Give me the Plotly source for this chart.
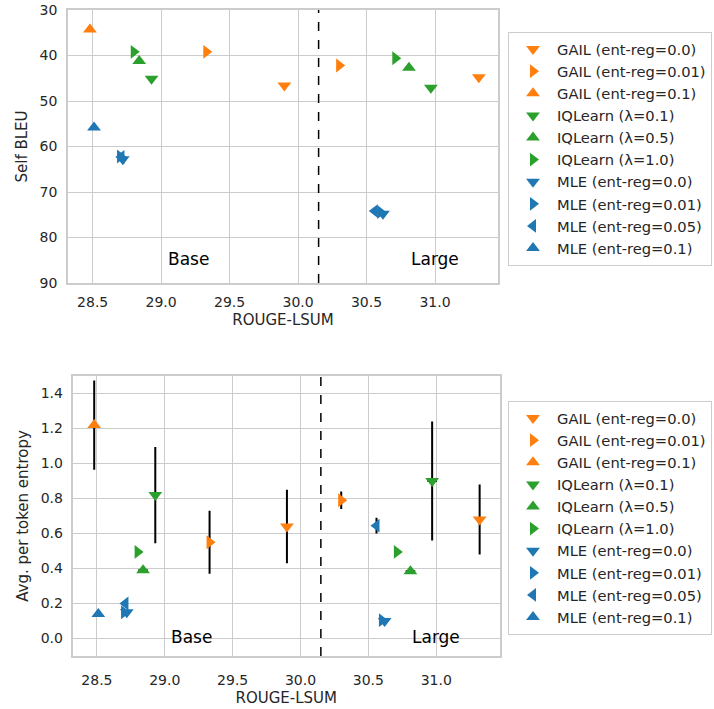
import plotly.graph_objects as go

# ---------------- data ----------------
series_names = [
    "GAIL (ent-reg=0.0)", "GAIL (ent-reg=0.01)", "GAIL (ent-reg=0.1)",
    "IQLearn (λ=0.1)", "IQLearn (λ=0.5)", "IQLearn (λ=1.0)",
    "MLE (ent-reg=0.0)", "MLE (ent-reg=0.01)", "MLE (ent-reg=0.05)", "MLE (ent-reg=0.1)",
]
series_colors = ["#ff7f0e"] * 3 + ["#2ca02c"] * 3 + ["#1f77b4"] * 4
series_symbols = ["triangle-down", "triangle-right", "triangle-up",
                  "triangle-down", "triangle-up", "triangle-right",
                  "triangle-down", "triangle-right", "triangle-left", "triangle-up"]

# ROUGE-LSUM per series: [base, large] (None = not present)
rouge = [
    [29.90, 31.32],
    [29.33, 30.30],
    [28.48, None],
    [28.93, 30.97],
    [28.84, 30.81],
    [28.80, 30.71],
    [28.72, 30.62],
    [28.70, 30.60],
    [28.71, 30.56],
    [28.51, None],
]
# Self BLEU per series: [base, large]
self_bleu = [
    [46.6, 44.8],
    [39.2, 42.2],
    [34.3, None],
    [45.1, 47.1],
    [41.2, 42.7],
    [39.2, 40.6],
    [62.8, 74.8],
    [62.2, 74.4],
    [62.3, 74.2],
    [55.8, None],
]
# Entropy per series: [base, large], and its std
entropy = [
    [0.64, 0.68],
    [0.55, 0.79],
    [1.22, None],
    [0.82, 0.90],
    [0.39, 0.385],
    [0.495, 0.495],
    [0.15, 0.10],
    [0.15, 0.105],
    [0.20, 0.645],
    [0.14, None],
]
entropy_err = [
    [0.21, 0.20],
    [0.18, 0.05],
    [0.255, None],
    [0.275, 0.34],
    [0.005, 0.005],
    [0.005, 0.005],
    [0.005, 0.005],
    [0.005, 0.005],
    [0.005, 0.045],
    [0.005, None],
]
rouge_err = [
    [0.0, 0.0],
    [0.0, 0.0],
    [0.0, None],
    [0.0, 0.035],
    [0.035, 0.035],
    [0.0, 0.0],
    [0.0, 0.0],
    [0.0, 0.0],
    [0.0, 0.0],
    [0.0, None],
]
divider_x = 30.15
x_ticks = [28.5, 29.0, 29.5, 30.0, 30.5, 31.0]
bleu_ticks = [30, 40, 50, 60, 70, 80, 90]
entropy_ticks = [0.0, 0.2, 0.4, 0.6, 0.8, 1.0, 1.2, 1.4]


def clean(xs, ys):
    keep = [i for i in range(len(xs)) if xs[i] is not None and ys[i] is not None]
    return [xs[i] for i in keep], [ys[i] for i in keep]


FONT = "DejaVu Sans, Verdana, sans-serif"
TXT = "#262626"
GRID = "#cccccc"

fig = go.Figure()

for i, name in enumerate(series_names):
    xs, ys = clean(rouge[i], self_bleu[i])
    fig.add_trace(go.Scatter(
        x=xs, y=ys, mode="markers", name=name,
        marker=dict(symbol=series_symbols[i], color=series_colors[i], size=12,
                    line=dict(width=0)),
        xaxis="x", yaxis="y", legend="legend",
    ))

for i, name in enumerate(series_names):
    keep = [k for k in range(2) if rouge[i][k] is not None]
    xs = [rouge[i][k] for k in keep]
    ys = [entropy[i][k] for k in keep]
    ey = [entropy_err[i][k] for k in keep]
    ex = [rouge_err[i][k] for k in keep]
    fig.add_trace(go.Scatter(
        x=xs, y=ys, mode="markers", name=name,
        marker=dict(symbol=series_symbols[i], color=series_colors[i], size=12,
                    line=dict(width=0)),
        error_y=dict(type="data", array=ey, color="black", thickness=2, width=0, visible=True),
        error_x=dict(type="data", array=ex, color="black", thickness=2, width=0, visible=True),
        xaxis="x2", yaxis="y2", legend="legend2",
    ))

W, H = 714, 709


def fx(px):
    return px / W


def fy(py):
    return (H - py) / H


axis_common = dict(
    showgrid=True, gridcolor=GRID, gridwidth=1,
    showline=True, linecolor=GRID, linewidth=1.5, mirror=True,
    zeroline=False, ticks="", automargin=False,
    tickfont=dict(family=FONT, size=14, color=TXT),
)
title_font = dict(family=FONT, size=15, color=TXT)

fig.update_layout(
    width=W, height=H,
    margin=dict(l=0, r=0, t=0, b=0, autoexpand=False),
    paper_bgcolor="white", plot_bgcolor="white",
    font=dict(family=FONT, color=TXT),
    xaxis=dict(domain=[fx(68), fx(498)], anchor="y", range=[28.32, 31.46],
               tickvals=x_ticks, ticktext=[f"{v:.1f}" for v in x_ticks],
               ticklabelstandoff=5,
               title=dict(text="ROUGE-LSUM", font=title_font, standoff=6),
               **axis_common),
    yaxis=dict(domain=[fy(283), fy(10)], anchor="x", range=[90, 30],
               tickvals=bleu_ticks, ticklabelstandoff=6,
               title=dict(text="Self BLEU", font=title_font, standoff=8),
               **axis_common),
    xaxis2=dict(domain=[fx(72.5), fx(500)], anchor="y2", range=[28.32, 31.47],
                tickvals=x_ticks, ticktext=[f"{v:.1f}" for v in x_ticks],
                ticklabelstandoff=10,
                title=dict(text="ROUGE-LSUM", font=title_font, standoff=6),
                **axis_common),
    yaxis2=dict(domain=[fy(656), fy(376)], anchor="x2", range=[-0.1, 1.5],
                tickvals=entropy_ticks, ticktext=[f"{v:.1f}" for v in entropy_ticks],
                ticklabelstandoff=5,
                title=dict(text="Avg. per token entropy", font=title_font, standoff=8),
                **axis_common),
    legend=dict(x=fx(508), y=fy(32), xanchor="left", yanchor="top",
                bordercolor=GRID, borderwidth=1, bgcolor="white",
                font=dict(family=FONT, size=14.7, color=TXT), itemwidth=38),
    legend2=dict(x=fx(508), y=fy(401), xanchor="left", yanchor="top",
                 bordercolor=GRID, borderwidth=1, bgcolor="white",
                 font=dict(family=FONT, size=14.7, color=TXT), itemwidth=38),
    shapes=[
        dict(type="line", xref="x", yref="y domain", x0=divider_x, x1=divider_x, y0=0, y1=1,
             line=dict(color="black", width=1.5, dash="dash")),
        dict(type="line", xref="x2", yref="y2 domain", x0=divider_x, x1=divider_x, y0=0, y1=1,
             line=dict(color="black", width=1.5, dash="dash")),
    ],
    annotations=[
        dict(x=29.2, y=84.8, xref="x", yref="y", text="Base", showarrow=False,
             font=dict(family=FONT, size=17, color="black")),
        dict(x=31.0, y=84.8, xref="x", yref="y", text="Large", showarrow=False,
             font=dict(family=FONT, size=17, color="black")),
        dict(x=29.2, y=0.01, xref="x2", yref="y2", text="Base", showarrow=False,
             font=dict(family=FONT, size=17, color="black")),
        dict(x=31.0, y=0.01, xref="x2", yref="y2", text="Large", showarrow=False,
             font=dict(family=FONT, size=17, color="black")),
    ],
)

fig.write_html("out.html", config={"displayModeBar": False},
               post_script="document.body.style.margin='0';document.body.style.padding='0';")
